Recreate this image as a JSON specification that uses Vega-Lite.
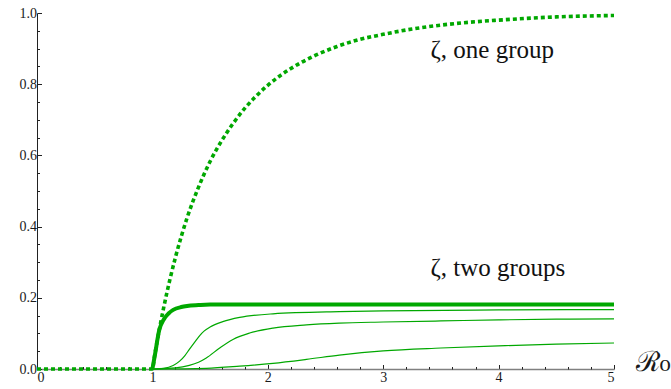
{
  "$schema": "https://vega.github.io/schema/vega-lite/v6.json",
  "width": 577,
  "height": 356,
  "autosize": {"type": "none"},
  "padding": {"left": 37, "right": 57, "top": 13, "bottom": 20},
  "background": "white",
  "config": {
    "view": {"stroke": null},
    "font": "Times New Roman",
    "axis": {"labelFont": "Times New Roman", "labelFontSize": 14, "labelColor": "#1a1a1a", "grid": false, "tickColor": "#222", "tickWidth": 1}
  },
  "datasets": {
    "curves": [
      {"series": "one", "R0": 0, "zeta": 0},
      {"series": "one", "R0": 1.0, "zeta": 0},
      {"series": "one", "R0": 1.02, "zeta": 0.039},
      {"series": "one", "R0": 1.05, "zeta": 0.0937},
      {"series": "one", "R0": 1.1, "zeta": 0.176},
      {"series": "one", "R0": 1.15, "zeta": 0.249},
      {"series": "one", "R0": 1.2, "zeta": 0.314},
      {"series": "one", "R0": 1.3, "zeta": 0.424},
      {"series": "one", "R0": 1.4, "zeta": 0.511},
      {"series": "one", "R0": 1.5, "zeta": 0.583},
      {"series": "one", "R0": 1.6, "zeta": 0.641},
      {"series": "one", "R0": 1.7, "zeta": 0.69},
      {"series": "one", "R0": 1.8, "zeta": 0.732},
      {"series": "one", "R0": 1.9, "zeta": 0.767},
      {"series": "one", "R0": 2.0, "zeta": 0.797},
      {"series": "one", "R0": 2.2, "zeta": 0.844},
      {"series": "one", "R0": 2.4, "zeta": 0.879},
      {"series": "one", "R0": 2.6, "zeta": 0.906},
      {"series": "one", "R0": 2.8, "zeta": 0.926},
      {"series": "one", "R0": 3.0, "zeta": 0.94},
      {"series": "one", "R0": 3.25, "zeta": 0.955},
      {"series": "one", "R0": 3.5, "zeta": 0.966},
      {"series": "one", "R0": 3.75, "zeta": 0.974},
      {"series": "one", "R0": 4.0, "zeta": 0.98},
      {"series": "one", "R0": 4.5, "zeta": 0.989},
      {"series": "one", "R0": 5.0, "zeta": 0.993},

      {"series": "two", "R0": 1.0, "zeta": 0},
      {"series": "two", "R0": 1.02, "zeta": 0.036},
      {"series": "two", "R0": 1.06, "zeta": 0.11},
      {"series": "two", "R0": 1.1, "zeta": 0.14},
      {"series": "two", "R0": 1.14, "zeta": 0.156},
      {"series": "two", "R0": 1.18, "zeta": 0.166},
      {"series": "two", "R0": 1.25, "zeta": 0.174},
      {"series": "two", "R0": 1.3, "zeta": 0.177},
      {"series": "two", "R0": 1.4, "zeta": 0.1795},
      {"series": "two", "R0": 1.5, "zeta": 0.181},
      {"series": "two", "R0": 2.0, "zeta": 0.181},
      {"series": "two", "R0": 5.0, "zeta": 0.181},

      {"series": "a", "R0": 1.0, "zeta": 0},
      {"series": "a", "R0": 1.1, "zeta": 0.002},
      {"series": "a", "R0": 1.18, "zeta": 0.01},
      {"series": "a", "R0": 1.236, "zeta": 0.022},
      {"series": "a", "R0": 1.28, "zeta": 0.037},
      {"series": "a", "R0": 1.32, "zeta": 0.055},
      {"series": "a", "R0": 1.37, "zeta": 0.077},
      {"series": "a", "R0": 1.41, "zeta": 0.094},
      {"series": "a", "R0": 1.45, "zeta": 0.107},
      {"series": "a", "R0": 1.5, "zeta": 0.118},
      {"series": "a", "R0": 1.61, "zeta": 0.133},
      {"series": "a", "R0": 1.756, "zeta": 0.145},
      {"series": "a", "R0": 2.045, "zeta": 0.155},
      {"series": "a", "R0": 2.62, "zeta": 0.161},
      {"series": "a", "R0": 3.0, "zeta": 0.163},
      {"series": "a", "R0": 4.0, "zeta": 0.166},
      {"series": "a", "R0": 5.0, "zeta": 0.167},

      {"series": "b", "R0": 1.0, "zeta": 0},
      {"series": "b", "R0": 1.2, "zeta": 0.003},
      {"series": "b", "R0": 1.32, "zeta": 0.01},
      {"series": "b", "R0": 1.4, "zeta": 0.019},
      {"series": "b", "R0": 1.467, "zeta": 0.031},
      {"series": "b", "R0": 1.583, "zeta": 0.059},
      {"series": "b", "R0": 1.698, "zeta": 0.083},
      {"series": "b", "R0": 1.843, "zeta": 0.101},
      {"series": "b", "R0": 2.045, "zeta": 0.115},
      {"series": "b", "R0": 2.335, "zeta": 0.124},
      {"series": "b", "R0": 2.618, "zeta": 0.129},
      {"series": "b", "R0": 3.0, "zeta": 0.132},
      {"series": "b", "R0": 3.5, "zeta": 0.135},
      {"series": "b", "R0": 4.0, "zeta": 0.138},
      {"series": "b", "R0": 4.5, "zeta": 0.14},
      {"series": "b", "R0": 5.0, "zeta": 0.141},

      {"series": "c", "R0": 1.0, "zeta": 0},
      {"series": "c", "R0": 1.467, "zeta": 0.002},
      {"series": "c", "R0": 1.756, "zeta": 0.008},
      {"series": "c", "R0": 2.045, "zeta": 0.016},
      {"series": "c", "R0": 2.335, "zeta": 0.027},
      {"series": "c", "R0": 2.62, "zeta": 0.039},
      {"series": "c", "R0": 3.0, "zeta": 0.051},
      {"series": "c", "R0": 3.5, "zeta": 0.059},
      {"series": "c", "R0": 4.0, "zeta": 0.065},
      {"series": "c", "R0": 4.5, "zeta": 0.07},
      {"series": "c", "R0": 5.0, "zeta": 0.073}
    ],
    "labels": [
      {"R0": 3.41, "zeta": 0.874, "text": "ζ, one group"},
      {"R0": 3.41, "zeta": 0.261, "text": "ζ, two groups"}
    ]
  },
  "resolve": {"axis": {"x": "independent", "y": "independent"}},
  "layer": [
    {
      "data": {"name": "curves"},
      "transform": [{"filter": "datum.series === 'a' || datum.series === 'b' || datum.series === 'c'"}],
      "mark": {"type": "line", "interpolate": "monotone", "color": "#00a800", "strokeWidth": 1.2, "clip": false},
      "encoding": {
        "x": {
          "field": "R0", "type": "quantitative",
          "scale": {"domain": [0, 5], "nice": false, "zero": false},
          "axis": {
            "orient": "bottom", "values": [0, 1, 2, 3, 4, 5], "format": "d",
            "domainColor": "#808080", "domainWidth": 1.5,
            "tickSize": -4.5, "labelPadding": 6,
            "labelFont": "Times New Roman", "labelFontSize": 14,
            "title": "ℛ₀", "titleFont": "DejaVu Serif", "titleFontSize": 28, "titleFontWeight": "normal",
            "titleColor": "#1a1a1a", "titleX": 598, "titleY": 1, "titleAlign": "left", "titleBaseline": "alphabetic", "titleAnchor": null
          }
        },
        "y": {
          "field": "zeta", "type": "quantitative",
          "scale": {"domain": [0, 1], "nice": false},
          "axis": {
            "orient": "left", "values": [0, 0.2, 0.4, 0.6, 0.8, 1.0], "format": ".1f",
            "domainColor": "#222", "domainWidth": 1,
            "tickSize": -4.5, "labelPadding": 5,
            "labelFont": "Times New Roman", "labelFontSize": 14,
            "title": null
          }
        },
        "detail": {"field": "series"}
      }
    },
    {
      "data": {"name": "curves"},
      "transform": [{"filter": "datum.series === 'two'"}],
      "mark": {"type": "line", "interpolate": "monotone", "color": "#00a800", "strokeWidth": 4, "clip": false},
      "encoding": {
        "x": {"field": "R0", "type": "quantitative", "axis": null},
        "y": {"field": "zeta", "type": "quantitative", "axis": null}
      }
    },
    {
      "data": {"name": "curves"},
      "transform": [{"filter": "datum.series === 'one'"}],
      "mark": {"type": "line", "interpolate": "monotone", "color": "#00a800", "strokeWidth": 3.6, "strokeDash": [4, 3], "strokeCap": "butt", "clip": false},
      "encoding": {
        "x": {"field": "R0", "type": "quantitative", "axis": null},
        "y": {"field": "zeta", "type": "quantitative", "axis": null}
      }
    },
    {
      "data": {"name": "labels"},
      "mark": {"type": "text", "align": "left", "baseline": "alphabetic", "font": "Times New Roman", "fontSize": 25, "color": "#111"},
      "encoding": {
        "x": {
          "field": "R0", "type": "quantitative",
          "axis": {
            "orient": "bottom", "values": [0.2, 0.4, 0.6, 0.8, 1.2, 1.4, 1.6, 1.8, 2.2, 2.4, 2.6, 2.8, 3.2, 3.4, 3.6, 3.8, 4.2, 4.4, 4.6, 4.8],
            "labels": false, "domain": false, "title": null,
            "tickSize": -2.5
          }
        },
        "y": {
          "field": "zeta", "type": "quantitative",
          "axis": {
            "orient": "left", "values": [0.05, 0.1, 0.15, 0.25, 0.3, 0.35, 0.45, 0.5, 0.55, 0.65, 0.7, 0.75, 0.85, 0.9, 0.95],
            "labels": false, "domain": false, "title": null,
            "tickSize": -2.5
          }
        },
        "text": {"field": "text"}
      }
    }
  ]
}
